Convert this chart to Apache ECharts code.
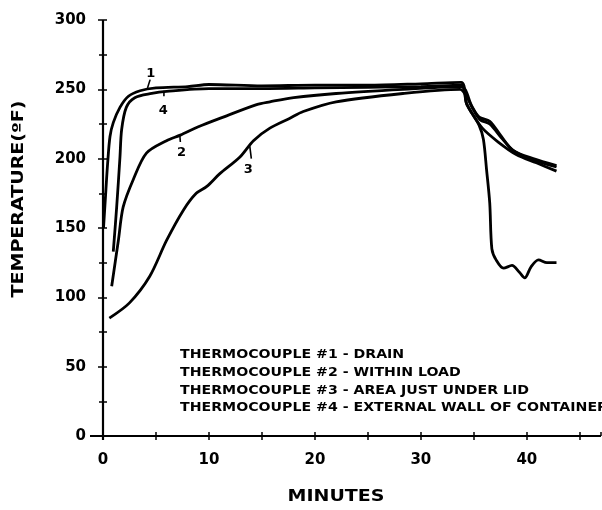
<!DOCTYPE html>
<html>
<head>
<meta charset="utf-8">
<script src="https://cdn.jsdelivr.net/npm/echarts@6/dist/echarts.min.js"></script>
<style>
  html, body { margin: 0; padding: 0; background: #fff; }
  #chart { width: 602px; height: 510px; }
</style>
</head>
<body>
<div id="chart"></div>
<script>
// [minutes, temperature F]
const tc1 = [[0.05,150],[0.27,177],[0.44,197],[0.66,216],[0.97,226],[1.6,237],[2.4,245],[3.5,249],[5,251],[8,252],[10,253.5],[15,252.5],[20,253],[25,253],[30,254],[33.8,255],[34.3,240],[34.8,233],[35.5,224],[35.9,214],[36.2,192],[36.5,168],[36.7,135],[37.1,127],[37.8,121],[38.6,123],[39.3,118],[39.8,114],[40.4,122],[41.1,127],[41.9,125],[42.8,125]];
const tc2 = [[0.82,108],[1.45,141],[1.9,165],[2.86,185],[4.1,204],[6,213],[7.3,217],[9,223],[11.35,230],[14.5,239],[15.75,241],[18,244],[22,247],[28.3,250],[33.8,252],[34.8,238],[35.5,230],[36.5,227],[37.6,216],[38.7,206],[40.6,200],[42.8,195]];
const tc3 = [[0.6,85],[2.5,96],[4.4,115],[6,141],[7.6,163],[8.8,175],[9.8,180],[11,189],[12.9,201],[14.2,213],[15.75,222],[17.6,229],[18.9,234],[22,241],[28.3,247],[33.7,250],[34.3,245],[34.9,236],[35.6,228],[36.5,225],[37.6,215],[38.7,206],[40.6,199],[42.8,194]];
const tc4 = [[0.97,133],[1.29,165],[1.6,201],[1.76,221],[2.2,237],[3,244],[4.6,247],[6,248.5],[10,250.5],[15,250.5],[20,251],[25,251.5],[30,252],[33.8,253],[34.3,240],[34.8,233],[35.8,222],[37.3,212],[39,203],[40.9,197],[42.8,191]];

const legendLines = [
  "THERMOCOUPLE #1 - DRAIN",
  "THERMOCOUPLE #2 - WITHIN LOAD",
  "THERMOCOUPLE #3 - AREA JUST UNDER LID",
  "THERMOCOUPLE #4 - EXTERNAL WALL OF CONTAINER"
];
// curve tags: [text, label point, leader start, leader end] in data units
const tags = [
  ["1", [4.5, 261.5], [4.45, 257], [4.2, 251]],
  ["4", [5.7, 235], [5.75, 249], [5.75, 245]],
  ["2", [7.4, 204], [7.25, 217], [7.3, 212]],
  ["3", [13.7, 192], [13.85, 209], [14.0, 200]]
];

const FONT = "'DejaVu Sans', 'Liberation Sans', Arial, sans-serif";
const chart = echarts.init(document.getElementById("chart"));

// stretch helper: scale factor so a text fills a given width
const ctx = document.createElement("canvas").getContext("2d");
function fitScale(text, font, width) {
  ctx.font = font;
  return width / ctx.measureText(text).width;
}

function lineSeries(data) {
  return {
    type: "line",
    data: data,
    smooth: 0.3,
    showSymbol: false,
    lineStyle: { color: "#000", width: 2.8 },
    z: 3
  };
}

const xBase = {
  type: "value", min: 0, max: 47, interval: 5,
  axisLine: { show: false },
  splitLine: { show: false }
};
const yBase = {
  type: "value", min: 0, max: 300, interval: 50,
  axisLine: { show: false },
  splitLine: { show: false },
  minorTick: { show: true, splitNumber: 2, length: 4, lineStyle: { color: "#000", width: 1.5 } }
};

chart.setOption({
  animation: false,
  grid: { left: 103, right: 1, top: 20, bottom: 74 },
  xAxis: [
    Object.assign({}, xBase, {
      axisTick: { show: true, length: 4, lineStyle: { color: "#000", width: 1.5 } },
      axisLabel: {
        color: "#000", fontFamily: FONT, fontWeight: "bold", fontSize: 15, margin: 17,
        showMaxLabel: false,
        formatter: v => (v % 10 === 0 ? String(v) : "")
      }
    }),
    Object.assign({}, xBase, {
      position: "bottom",
      axisTick: { show: true, inside: true, length: 4, lineStyle: { color: "#000", width: 1.5 } },
      axisLabel: { show: false }
    })
  ],
  yAxis: [
    Object.assign({}, yBase, {
      axisTick: { show: true, length: 5, lineStyle: { color: "#000", width: 1.5 } },
      axisLabel: { color: "#000", fontFamily: FONT, fontWeight: "bold", fontSize: 15, margin: 17 }
    }),
    Object.assign({}, yBase, {
      position: "left",
      axisTick: { show: true, inside: true, length: 4, lineStyle: { color: "#000", width: 1.5 } },
      minorTick: { show: true, splitNumber: 2, length: 4, lineStyle: { color: "#000", width: 1.5 } },
      axisLabel: { show: false }
    })
  ],
  series: [lineSeries(tc1), lineSeries(tc2), lineSeries(tc3), lineSeries(tc4)]
});

// axis lines, titles, notes
const x0 = chart.convertToPixel({ xAxisIndex: 0 }, 0);
const xEnd = chart.convertToPixel({ xAxisIndex: 0 }, 47);
const yZero = chart.convertToPixel({ yAxisIndex: 0 }, 0);
const yTop = chart.convertToPixel({ yAxisIndex: 0 }, 300);

const titleFont = "bold 15px " + FONT;
const noteFont = "bold 11.5px " + FONT;
const noteScale = fitScale(legendLines[3], noteFont, 428);

const graphics = [
  { type: "line", shape: { x1: x0 - 13, y1: yZero, x2: xEnd, y2: yZero }, style: { stroke: "#000", lineWidth: 2 }, z: 5 },
  { type: "line", shape: { x1: x0, y1: yTop, x2: x0, y2: yZero + 4 }, style: { stroke: "#000", lineWidth: 2.2 }, z: 5 },
  { type: "text", x: 19, y: 199, rotation: Math.PI / 2,
    scaleX: fitScale("TEMPERATURE(ºF)", titleFont, 197),
    style: { text: "TEMPERATURE(ºF)", font: titleFont, fill: "#000", align: "center", verticalAlign: "middle" } },
  { type: "text", x: 336, y: 497,
    scaleX: fitScale("MINUTES", titleFont, 97),
    style: { text: "MINUTES", font: titleFont, fill: "#000", align: "center", verticalAlign: "middle" } }
];
const legendY = [355, 373, 391, 408];
legendLines.forEach((t, i) => {
  graphics.push({ type: "text", x: 180, y: legendY[i], scaleX: noteScale,
    style: { text: t, font: noteFont, fill: "#000", verticalAlign: "middle" } });
});
tags.forEach(tg => {
  const p = chart.convertToPixel({ gridIndex: 0 }, tg[1]);
  const a = chart.convertToPixel({ gridIndex: 0 }, tg[2]);
  const b = chart.convertToPixel({ gridIndex: 0 }, tg[3]);
  graphics.push({ type: "text", x: p[0], y: p[1],
    style: { text: tg[0], font: "bold 13px " + FONT, fill: "#000", align: "center", verticalAlign: "middle" } });
  graphics.push({ type: "line", shape: { x1: a[0], y1: a[1], x2: b[0], y2: b[1] },
    style: { stroke: "#000", lineWidth: 1.6 } });
});
chart.setOption({ graphic: graphics });
</script>
</body>
</html>
